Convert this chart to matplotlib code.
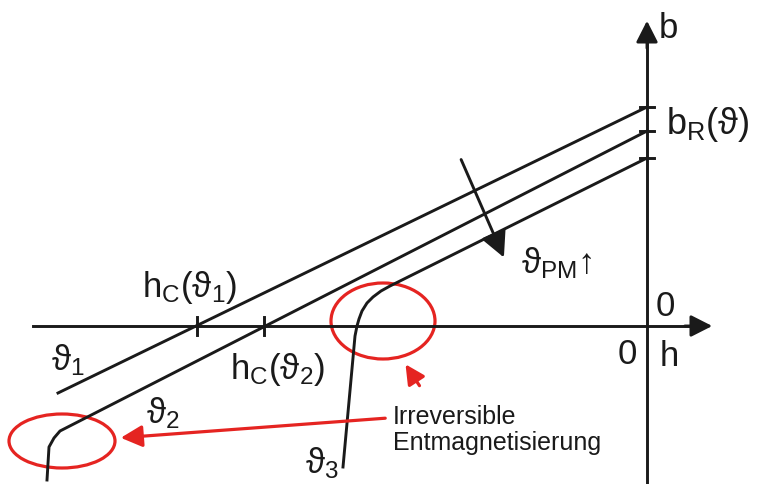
import matplotlib
matplotlib.use('Agg')
import matplotlib.pyplot as plt
from matplotlib.patches import Ellipse

plt.rcParams['font.family'] = ['Liberation Sans', 'DejaVu Sans']
plt.rcParams['mathtext.fontset'] = 'custom'
plt.rcParams['mathtext.rm'] = 'Liberation Sans'
plt.rcParams['mathtext.it'] = 'Liberation Sans'

# Kennlinien b(h) fuer drei Temperaturen (h nach links negativ)
h_t1 = [0, -589]
b_t1 = [219, -67]

h_t2 = [0, -587, -593, -598, -600]
b_t2 = [195, -105, -112, -121, -154]

h_t3 = [0, -247, -257, -266, -274, -280, -285, -288, -290, -292, -304]
b_t3 = [168, 45, 40, 35, 29, 23, 15, 7, 0, -10, -141]

# Remanenz- und Koerzitivmarken
b_remanenz = [219, 195, 168]
h_koerz = [-450, -383]

black = '#1a1a1a'
red = '#e52421'
lw = 2.1
head = '-|>,head_length=0.65,head_width=0.33'

fig = plt.figure(figsize=(7.57, 4.84), dpi=100)
ax = fig.add_axes([0, 0, 1, 1])
ax.set_xlim(-647, 110)
ax.set_ylim(-158, 326)
ax.axis('off')

# Achsen mit Pfeilspitzen
ax.plot([-614, 50], [0, 0], color=black, lw=lw)
ax.plot([0, 0], [-158, 290], color=black, lw=lw)
ax.annotate('', xy=(68, 0), xytext=(35, 0),
            arrowprops=dict(arrowstyle=head, color=black, lw=lw, mutation_scale=20))
ax.annotate('', xy=(0, 308), xytext=(0, 275),
            arrowprops=dict(arrowstyle=head, color=black, lw=lw, mutation_scale=20))

for b in b_remanenz:
    ax.plot([-7, 7], [b, b], color=black, lw=lw)
for h in h_koerz:
    ax.plot([h, h], [-9, 9], color=black, lw=lw)

ax.plot(h_t1, b_t1, color=black, lw=lw, solid_joinstyle='round')
ax.plot(h_t2, b_t2, color=black, lw=lw, solid_joinstyle='round')
ax.plot(h_t3, b_t3, color=black, lw=lw, solid_joinstyle='round')

# Temperaturpfeil
ax.annotate('', xy=(-142, 66), xytext=(-187, 169),
            arrowprops=dict(arrowstyle=head, color=black, lw=lw, mutation_scale=24))

# Beschriftung
fs = 25
ax.text(21, 298, 'b', fontsize=fs, ha='center', va='center', color=black)
ax.text(61, 201, r'$\mathrm{b_R(\vartheta)}$', fontsize=fs + 1, ha='center', va='center', color=black)
ax.text(-90, 63, r'$\mathrm{\vartheta_{PM}}$' + '\u2191', fontsize=fs, ha='center', va='center', color=black)
ax.text(18, 20, '0', fontsize=fs, ha='center', va='center', color=black)
ax.text(-20, -29, '0', fontsize=fs, ha='center', va='center', color=black)
ax.text(22, -31, 'h', fontsize=fs, ha='center', va='center', color=black)
ax.text(-457, 38, r'$\mathrm{h_C(\vartheta_1)}$', fontsize=fs, ha='center', va='center', color=black)
ax.text(-369, -44, r'$\mathrm{h_C(\vartheta_2)}$', fontsize=fs, ha='center', va='center', color=black)
ax.text(-579, -34, r'$\mathrm{\vartheta_1}$', fontsize=fs, ha='center', va='center', color=black)
ax.text(-484, -87, r'$\mathrm{\vartheta_2}$', fontsize=fs, ha='center', va='center', color=black)
ax.text(-325, -137, r'$\mathrm{\vartheta_3}$', fontsize=fs, ha='center', va='center', color=black)

ax.text(-254, -104, 'Irreversible\nEntmagnetisierung', fontsize=18, ha='left', va='center',
        color=black, linespacing=1.15)

# Bereiche irreversibler Entmagnetisierung
ax.add_patch(Ellipse((-264, 5), 104, 76, fill=False, edgecolor=red, lw=2.3))
ax.add_patch(Ellipse((-585, -115), 106, 54, fill=False, edgecolor=red, lw=2.3))
ax.annotate('', xy=(-529, -112), xytext=(-259, -92),
            arrowprops=dict(arrowstyle=head, color=red, lw=2.3, mutation_scale=20))
ax.annotate('', xy=(-243, -36), xytext=(-226, -62),
            arrowprops=dict(arrowstyle=head, color=red, lw=2.3, mutation_scale=18))

fig.savefig('out.png', dpi=100)
